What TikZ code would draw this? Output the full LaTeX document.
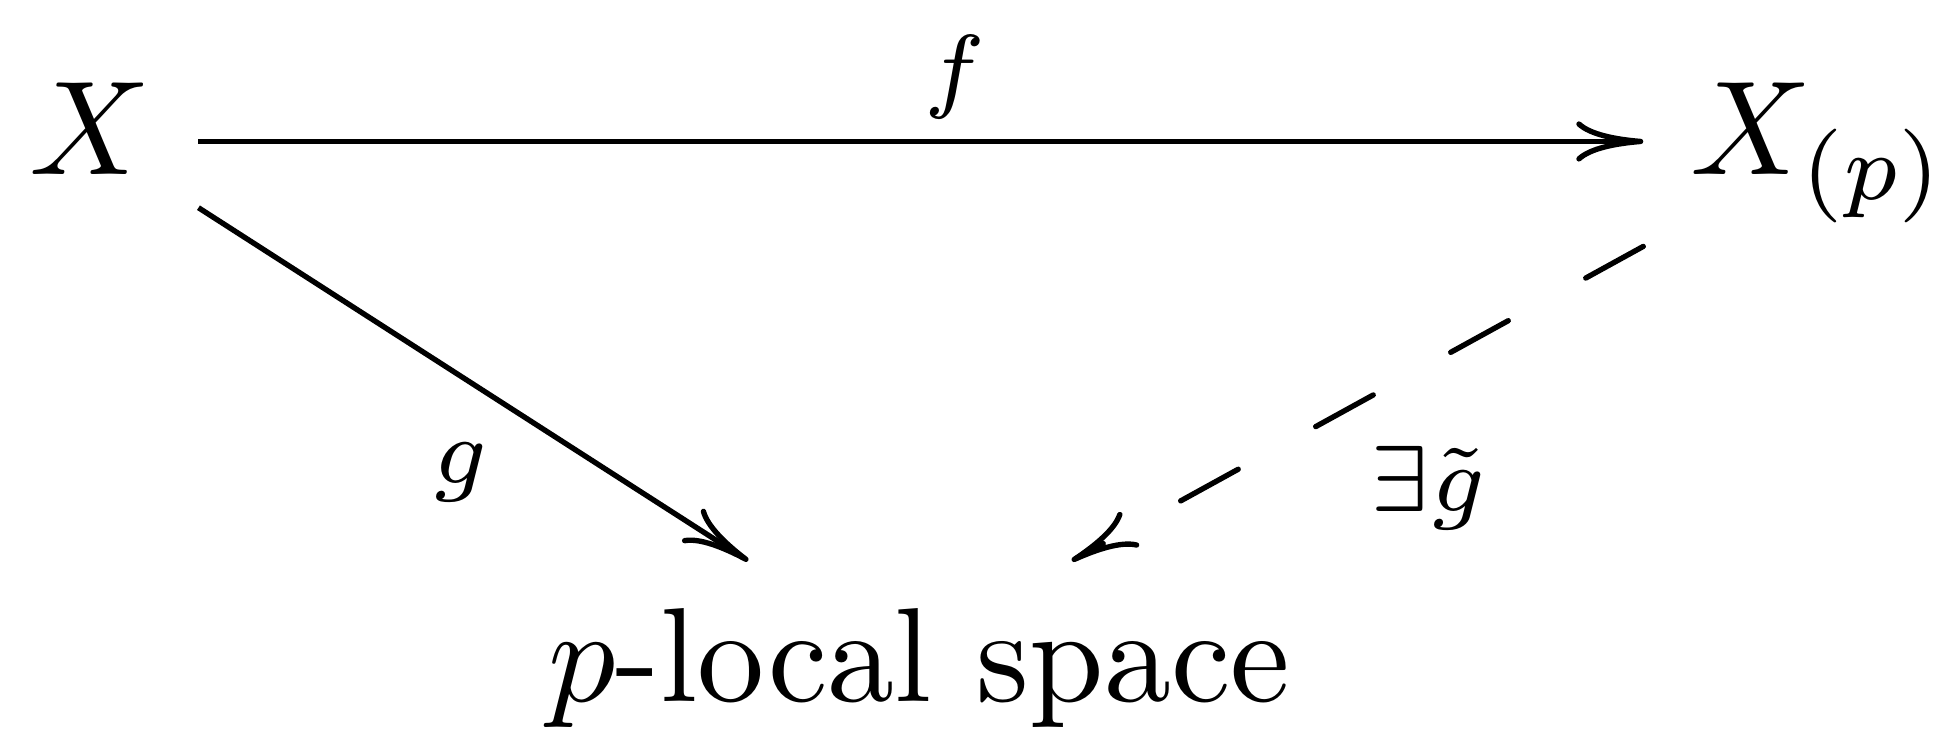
\documentclass[tikz,border=0pt]{standalone}
\usepackage{amsmath,amssymb}
\usepackage{tikz}
\usetikzlibrary{arrows.meta,positioning}
\tikzset{
  obj/.style={inner sep=0.3333em},
  lbl/.style={inner sep=1.5pt, font=\scriptsize},
  arr/.style={-{Computer Modern Rightarrow[length=5pt, width=3pt]}, line width=0.4pt},
  darr/.style={arr, line cap=round, dash pattern=on 4.9pt off 6.6pt},
}

\begin{document}
\begin{tikzpicture}
  \useasboundingbox (0,0) rectangle (5.104,1.915);
  % objects
  \node[obj, anchor=base]      (X)  at (0.237,1.456) {$X$};
  \node[obj, anchor=base west] (Xp) at (4.310,1.456) {$X_{(p)}$};
  \node[obj, anchor=base west] (pl) at (1.314,0.076) {$p$-local space};
  % maps
  \draw[arr] ([yshift=2.5pt]X.base east) -- ([yshift=2.5pt]Xp.base west)
    node[lbl, midway, above, xshift=2.5pt] {$f$};
  \draw[arr] (X.-36) -- (pl.148)
    node[lbl, midway, below=2.7pt, xshift=-1pt] {$g$};
  \draw[darr] (Xp.208) -- (pl.35)
    node[lbl, midway, below right, xshift=-0.8pt, yshift=-1.5pt] {$\exists\tilde{g}$};
\end{tikzpicture}
\end{document}
